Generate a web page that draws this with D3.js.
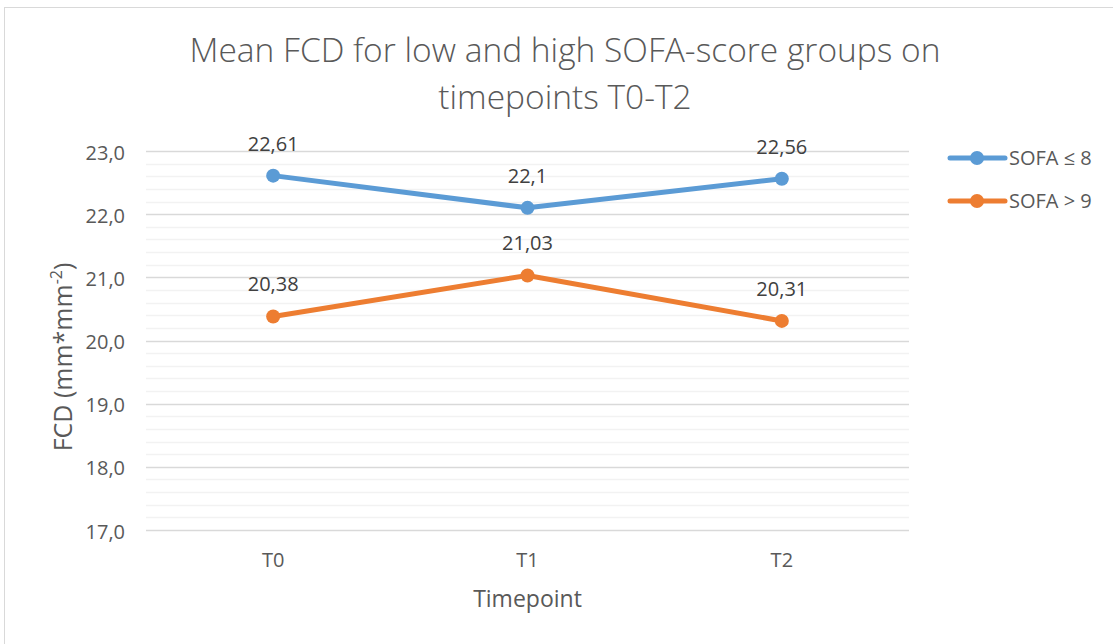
<!DOCTYPE html>
<html>
<head>
<meta charset="utf-8">
<script src="https://cdn.jsdelivr.net/npm/d3@7"></script>
<style>
  body { margin: 0; background: #fff; }
  svg { font-family: "Open Sans", "Noto Sans", sans-serif; }
</style>
</head>
<body>
<div id="chart"></div>
<script>
// Data
const timepoints = ["T0", "T1", "T2"];
const seriesNames = ["SOFA \u2264 8", "SOFA > 9"];
const lowSofa = [22.61, 22.1, 22.56];
const highSofa = [20.38, 21.03, 20.31];
const lowLabels = ["22,61", "22,1", "22,56"];
const highLabels = ["20,38", "21,03", "20,31"];
const yTicks = [17, 18, 19, 20, 21, 22, 23];
const colors = ["#5B9BD5", "#ED7D31"];

const W = 1113, H = 644;
const margin = { top: 151, right: 204, bottom: 114, left: 146 };
const width = W - margin.left - margin.right,
      height = H - margin.top - margin.bottom;

const svg = d3.select("#chart").append("svg")
    .attr("width", W).attr("height", H);

// chart area border
svg.append("rect")
    .attr("x", 4.5).attr("y", 7.5)
    .attr("width", W + 10).attr("height", H + 10)
    .attr("fill", "none").attr("stroke", "#d9d9d9").attr("stroke-width", 1);

const g = svg.append("g").attr("transform", "translate(" + margin.left + "," + margin.top + ")");

const x = d3.scaleBand().domain(timepoints).range([0, width]);
const y = d3.scaleLinear().domain([17, 23]).range([height, 0]);

// minor gridlines
const minor = d3.range(17, 23.001, 0.2).filter(v => Math.abs(v - Math.round(v)) > 0.01);
g.append("g").selectAll("line").data(minor).enter().append("line")
    .attr("x1", 0).attr("x2", width)
    .attr("y1", d => Math.round(y(d)) + 0.5).attr("y2", d => Math.round(y(d)) + 0.5)
    .attr("stroke", "#f2f2f2").attr("stroke-width", 1.3);

// major gridlines
g.append("g").selectAll("line").data(yTicks).enter().append("line")
    .attr("x1", 0).attr("x2", width)
    .attr("y1", d => Math.round(y(d)) + 0.5).attr("y2", d => Math.round(y(d)) + 0.5)
    .attr("stroke", "#d9d9d9").attr("stroke-width", 1.3);

// Y axis labels
const yAxis = g.append("g").call(d3.axisLeft(y).tickValues(yTicks)
    .tickFormat(d => d3.format(".1f")(d).replace(".", ",")).tickSize(0).tickPadding(21));
yAxis.select(".domain").remove();
yAxis.selectAll("text").attr("fill", "#595959").attr("dy", "0.4em").style("font-size", "20px")
    .style("font-family", "'Open Sans', sans-serif");

// X axis labels
const xAxis = g.append("g").attr("transform", "translate(0," + height + ")")
    .call(d3.axisBottom(x).tickSize(0).tickPadding(23));
xAxis.select(".domain").remove();
xAxis.selectAll("text").attr("fill", "#595959").style("font-size", "20px")
    .style("font-family", "'Open Sans', sans-serif");

// Lines and points
const series = [lowSofa, highSofa];
const labels = [lowLabels, highLabels];
const line = d3.line()
    .x((d, i) => x(timepoints[i]) + x.bandwidth() / 2)
    .y(d => y(d));

series.forEach((vals, s) => {
    g.append("path").datum(vals)
        .attr("fill", "none").attr("stroke", colors[s])
        .attr("stroke-width", 5).attr("stroke-linejoin", "round")
        .attr("d", line);
    g.append("g").selectAll("circle").data(vals).enter().append("circle")
        .attr("cx", (d, i) => x(timepoints[i]) + x.bandwidth() / 2)
        .attr("cy", d => y(d))
        .attr("r", 7).attr("fill", colors[s]);
    g.append("g").selectAll("text").data(vals).enter().append("text")
        .attr("x", (d, i) => x(timepoints[i]) + x.bandwidth() / 2)
        .attr("y", d => y(d) - 25)
        .attr("text-anchor", "middle")
        .attr("fill", "#404040").style("font-size", "20px")
        .text((d, i) => labels[s][i]);
});

// Title
svg.append("text").attr("x", 565).attr("y", 62).attr("text-anchor", "middle")
    .attr("fill", "#595959").style("font-size", "33.5px").style("font-weight", 300)
    .text("Mean FCD for low and high SOFA-score groups on");
svg.append("text").attr("x", 565).attr("y", 109).attr("text-anchor", "middle")
    .attr("fill", "#595959").style("font-size", "33.5px").style("font-weight", 300)
    .text("timepoints T0-T2");

// Axis titles
svg.append("text").attr("x", margin.left + width / 2).attr("y", 607)
    .attr("text-anchor", "middle").attr("fill", "#595959").style("font-size", "23px")
    .text("Timepoint");

const yt = svg.append("text")
    .attr("transform", "translate(72,357) rotate(-90)")
    .attr("text-anchor", "middle").attr("fill", "#595959").style("font-size", "25px");
yt.append("tspan").text("FCD (mm*mm");
yt.append("tspan").attr("dy", -10).style("font-size", "16px").text("-2");
yt.append("tspan").attr("dy", 10).text(")");

// Legend
seriesNames.forEach((name, i) => {
    const ly = 158 + i * 43;
    svg.append("line").attr("x1", 950).attr("x2", 1005).attr("y1", ly).attr("y2", ly)
        .attr("stroke", colors[i]).attr("stroke-width", 5).attr("stroke-linecap", "round");
    svg.append("circle").attr("cx", 977).attr("cy", ly).attr("r", 7).attr("fill", colors[i]);
    svg.append("text").attr("x", 1009).attr("y", ly).attr("dy", "0.36em")
        .attr("fill", "#595959").style("font-size", "20px").text(name);
});
</script>
</body>
</html>
